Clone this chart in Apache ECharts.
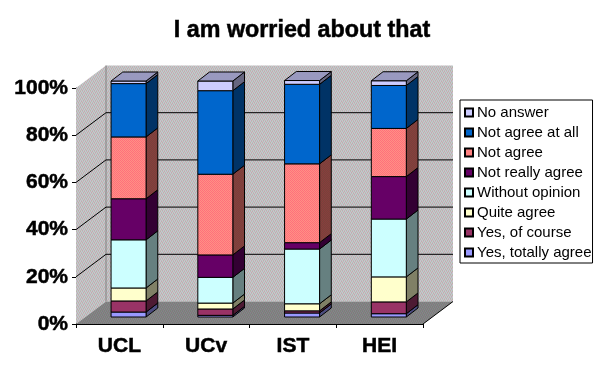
<!DOCTYPE html>
<html><head><meta charset="utf-8">
<style>html,body{margin:0;padding:0;background:#fff}#c{width:605px;height:376px}</style>
<script src="https://cdn.jsdelivr.net/npm/echarts@6/dist/echarts.min.js"></script>
</head><body><div id="c"></div>
<script>
const categories = ['UCL','UCv','IST','HEI'];
const yesTotally = [2.1,0.7,1.7,1.4];
const yesCourse  = [4.7,2.7,0.9,5.0];
const quiteAgree = [5.5,2.5,3.0,10.6];
const withoutOp  = [20.4,10.9,23.2,24.5];
const notReally  = [17.4,9.5,2.7,18.0];
const notAgree   = [26.2,34.2,33.4,20.4];
const notAtAll   = [22.6,35.4,33.7,18.2];
const noAnswer   = [1.1,4.1,1.6,2.0];
const yTicks = [0,20,40,60,80,100];
function tile(cols){
 const n=cols.length,c=document.createElement('canvas');c.width=c.height=n;
 const g=c.getContext('2d');
 cols.forEach((row,y)=>row.forEach((col,x)=>{g.fillStyle=col;g.fillRect(x,y,1,1);}));
 return {image:c,repeat:'repeat'};
}
const A='#cdb9cd',B='#b4c4b4',C='#c4c4d4',D='#bcb4a8';
const WALL=tile([[A,B,C,D],[C,D,A,B],[B,A,D,C],[D,C,B,A]]);
const E='#8a7a8a',F='#768676',G='#888090',H='#7c8478';
const FLOOR=tile([[E,F,G,H],[G,H,E,F],[F,E,H,G],[H,G,F,E]]);
const SALMON=tile([['#ff6f7c','#ff9184'],['#ff9184','#ff6f7c']]);
const SALMON_SIDE=tile([['#8a3c3c','#76443c'],['#76443c','#8a3c3c']]);
const stackOrder = [
 ['Yes, totally agree',yesTotally,'#9999ff','#4d4d80'],
 ['Yes, of course',yesCourse,'#993366','#4d1a33'],
 ['Quite agree',quiteAgree,'#ffffcc','#808066'],
 ['Without opinion',withoutOp,'#ccffff','#668080'],
 ['Not really agree',notReally,'#660066','#330033'],
 ['Not agree',notAgree,'#ff8080','#804040'],
 ['Not agree at all',notAtAll,'#0066cc','#003366'],
 ['No answer',noAnswer,'#ccccff','#666680']
];
const FONT='"Liberation Sans",Arial,sans-serif';
const wallDX=30, wallDY=-22.5, barDX=9.2, barDY=-7, sideDX=11.7, sideDY=-9, barW=35;
const poly=(pts,fill,stroke)=>({type:'polygon',shape:{points:pts},style:{fill:fill,stroke:stroke||null,lineWidth:1}});
const line=(a,b)=>({type:'line',shape:{x1:a[0],y1:a[1],x2:b[0],y2:b[1]},style:{stroke:'#000',lineWidth:1}});

const wallSeries={type:'custom',name:'walls',silent:true,z:1,coordinateSystem:'cartesian2d',
 data:yTicks.map(t=>[0,t]),clip:false,
 renderItem(p,api){
  const t=api.value(1);
  const c0=api.coord([0,t]), c3=api.coord([3,t]);
  const half=(c3[0]-c0[0])/6;
  const l=c0[0]-half, r=c3[0]+half, y=c0[1];
  const kids=[];
  if(t===0){
   const top=api.coord([0,100])[1];
   kids.push(poly([[l,y],[l+wallDX,y+wallDY],[l+wallDX,top+wallDY],[l,top]],WALL));
   kids.push(poly([[l+wallDX,y+wallDY],[r+wallDX,y+wallDY],[r+wallDX,top+wallDY],[l+wallDX,top+wallDY]],WALL));
   kids.push(line([l+wallDX,y+wallDY],[l+wallDX,top+wallDY]));
   kids[kids.length-1].style.stroke='#808080';
   kids.push(poly([[l,y],[r,y],[r+wallDX,y+wallDY],[l+wallDX,y+wallDY]],FLOOR));
   kids.push(line([r,y],[r+wallDX,y+wallDY]));
  } else if(t<100){
   kids.push(line([l,y],[l+wallDX,y+wallDY]));
   kids.push(line([l+wallDX,y+wallDY],[r+wallDX,y+wallDY]));
  }
  return {type:'group',children:kids};
 }};

const barSeries=stackOrder.map((s,si)=>({
 type:'custom',name:s[0],z:2,clip:false,coordinateSystem:'cartesian2d',
 itemStyle:{color:s[2],borderColor:'#000',borderWidth:1},
 data:categories.map((c,i)=>{
   let low=0; for(let k=0;k<si;k++) low+=stackOrder[k][1][i];
   return [i,low,low+s[1][i]];
 }),
 renderItem(p,api){
  const a=api.coord([api.value(0),api.value(1)]), b=api.coord([api.value(0),api.value(2)]);
  const xl=a[0]+barDX-barW/2, xr=xl+barW, y0=a[1]+barDY, y1=b[1]+barDY;
  const isSalmon=s[0]==='Not agree';
  const kids=[
   poly([[xr,y0],[xr+sideDX,y0+sideDY],[xr+sideDX,y1+sideDY],[xr,y1]],isSalmon?SALMON_SIDE:s[3],'#000'),
   poly([[xl,y0],[xr,y0],[xr,y1],[xl,y1]],isSalmon?SALMON:s[2],'#000')
  ];
  if(si===stackOrder.length-1) kids.push(poly([[xl,y1],[xr,y1],[xr+sideDX,y1+sideDY],[xl+sideDX,y1+sideDY]],'#9999bf','#000'));
  return {type:'group',children:kids};
 }}));

const heavy={textBorderColor:'#000',textBorderWidth:0.5};
const chart=echarts.init(document.getElementById('c'),null,{renderer:'canvas'});
chart.setOption({
 animation:false,backgroundColor:'#fff',
 title:{text:'I am worried about that',left:297,top:14,textAlign:'center',
  textStyle:Object.assign({fontFamily:FONT,fontWeight:'bold',fontSize:23.3,color:'#000'},heavy)},
 grid:{left:76,top:88,width:347,height:236,containLabel:false},
 xAxis:{type:'category',data:categories,boundaryGap:true,
  axisLine:{show:true,lineStyle:{color:'#000'}},axisTick:{show:true,length:4,lineStyle:{color:'#000'}},
  axisLabel:Object.assign({fontFamily:FONT,fontWeight:'bold',fontSize:21,color:'#000',margin:12},heavy),splitLine:{show:false}},
 yAxis:{type:'value',min:0,max:100,interval:20,
  axisLine:{show:true,lineStyle:{color:'#000'}},axisTick:{show:true,length:4,lineStyle:{color:'#000'}},
  axisLabel:Object.assign({formatter:'{value}%',fontFamily:FONT,fontWeight:'bold',fontSize:21,color:'#000',margin:8,padding:[4,0,0,0]},heavy),splitLine:{show:false}},
 legend:{orient:'vertical',left:460,top:100,
  data:stackOrder.map(s=>s[0]).reverse(),
  icon:'rect',itemWidth:8,itemHeight:8,itemGap:3,
  padding:[4,1,2,4],backgroundColor:'#fff',borderColor:'#000',borderWidth:1,
  textStyle:{fontFamily:FONT,fontSize:15,lineHeight:17,color:'#000',padding:[0,0,0,-1]},selectedMode:false},
 series:[wallSeries].concat(barSeries)
});
</script></body></html>
